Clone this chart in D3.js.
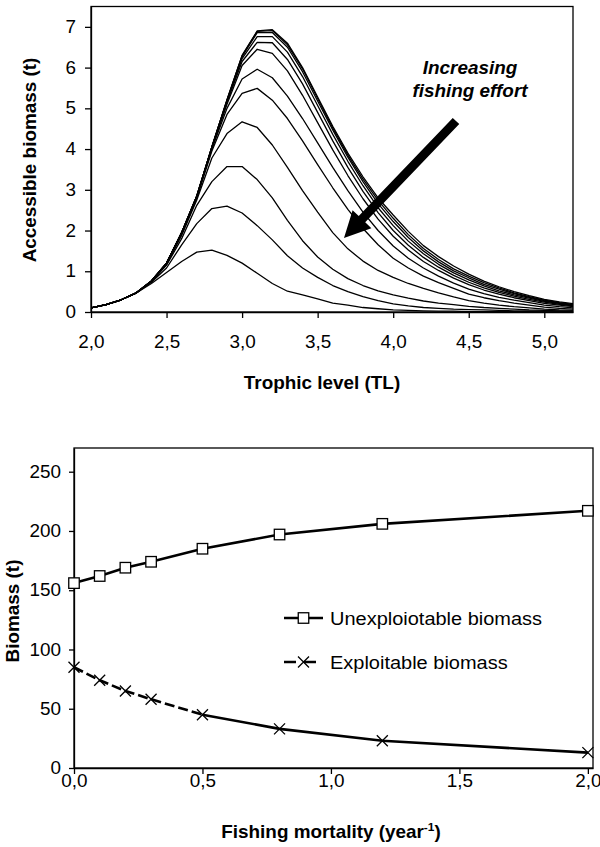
<!DOCTYPE html>
<html><head><meta charset="utf-8">
<script src="https://cdn.jsdelivr.net/npm/d3@7"></script>
<style>body{margin:0;background:#fff}svg{display:block;font-family:"Liberation Sans",Arial,sans-serif}</style>
</head><body>
<svg id="c" width="600" height="847"></svg>
<script>
// ---- Top chart data: accessible biomass vs trophic level, one curve per fishing effort ----
const trophicLevels = [2.0,2.1,2.2,2.3,2.4,2.5,2.6,2.7,2.8,2.9,3.0,3.1,3.2,3.3,3.4,3.5,3.6,3.7,3.8,3.9,4.0,4.1,4.2,4.3,4.4,4.5,4.6,4.7,4.8,4.9,5.0,5.1,5.2];
const curve01 = [0.10,0.18,0.30,0.47,0.76,1.20,1.95,2.85,4.05,5.21,6.30,6.90,6.93,6.60,6.00,5.28,4.56,3.90,3.32,2.80,2.38,1.98,1.63,1.36,1.13,0.93,0.76,0.62,0.50,0.40,0.31,0.25,0.20];
const curve02 = [0.10,0.18,0.30,0.47,0.76,1.20,1.95,2.85,4.05,5.20,6.29,6.89,6.91,6.56,5.97,5.24,4.52,3.85,3.26,2.74,2.30,1.90,1.56,1.29,1.06,0.88,0.72,0.59,0.47,0.38,0.29,0.23,0.18];
const curve03 = [0.10,0.18,0.30,0.47,0.76,1.20,1.95,2.85,4.05,5.20,6.27,6.86,6.86,6.50,5.90,5.18,4.47,3.80,3.20,2.66,2.22,1.83,1.50,1.23,1.01,0.84,0.68,0.56,0.45,0.36,0.28,0.22,0.17];
const curve04 = [0.10,0.18,0.30,0.47,0.76,1.20,1.95,2.84,4.05,5.18,6.22,6.76,6.76,6.38,5.78,5.07,4.36,3.70,3.10,2.56,2.12,1.74,1.43,1.17,0.96,0.79,0.64,0.52,0.42,0.34,0.26,0.21,0.16];
const curve05 = [0.10,0.18,0.30,0.47,0.76,1.20,1.94,2.84,4.04,5.15,6.15,6.62,6.61,6.20,5.60,4.90,4.20,3.55,2.96,2.44,2.00,1.64,1.34,1.10,0.90,0.73,0.59,0.48,0.39,0.31,0.24,0.19,0.15];
const curve06 = [0.10,0.18,0.30,0.47,0.76,1.20,1.94,2.83,4.03,5.10,6.05,6.45,6.35,5.92,5.32,4.65,3.98,3.35,2.78,2.28,1.86,1.52,1.24,1.02,0.83,0.67,0.54,0.44,0.35,0.28,0.21,0.17,0.13];
const curve07 = [0.10,0.18,0.30,0.47,0.76,1.19,1.93,2.82,4.00,5.00,5.72,5.96,5.75,5.30,4.75,4.15,3.55,2.98,2.45,2.00,1.62,1.32,1.08,0.88,0.71,0.56,0.45,0.36,0.29,0.23,0.17,0.13,0.10];
const curve08 = [0.10,0.18,0.30,0.47,0.75,1.18,1.92,2.80,3.95,4.85,5.37,5.49,5.20,4.75,4.20,3.62,3.05,2.52,2.05,1.65,1.32,1.08,0.88,0.72,0.58,0.44,0.35,0.28,0.22,0.17,0.12,0.09,0.07];
const curve09 = [0.10,0.18,0.30,0.47,0.75,1.17,1.88,2.75,3.78,4.38,4.67,4.53,4.10,3.55,2.98,2.45,1.95,1.55,1.25,1.02,0.85,0.70,0.58,0.47,0.37,0.28,0.22,0.17,0.13,0.10,0.07,0.05,0.04];
const curve10 = [0.10,0.18,0.30,0.47,0.75,1.15,1.80,2.62,3.20,3.57,3.57,3.25,2.80,2.25,1.75,1.35,1.05,0.82,0.65,0.52,0.42,0.34,0.27,0.22,0.18,0.14,0.11,0.09,0.07,0.05,0.04,0.03,0.02];
const curve11 = [0.10,0.18,0.30,0.47,0.73,1.08,1.65,2.17,2.54,2.60,2.43,2.12,1.77,1.38,1.08,0.85,0.65,0.50,0.38,0.28,0.20,0.15,0.11,0.09,0.07,0.06,0.05,0.04,0.03,0.03,0.02,0.02,0.01];
const curve12 = [0.10,0.18,0.30,0.47,0.70,0.97,1.24,1.47,1.52,1.39,1.20,0.95,0.70,0.51,0.42,0.32,0.22,0.17,0.11,0.08,0.05,0.04,0.03,0.02,0.02,0.01,0.01,0.01,0.01,0.01,0.00,0.00,0.00];
const topCurves = [curve01,curve02,curve03,curve04,curve05,curve06,curve07,curve08,curve09,curve10,curve11,curve12];
const topXTicks = [2.0,2.5,3.0,3.5,4.0,4.5,5.0];
const topYTicks = [0,1,2,3,4,5,6,7];

// ---- Bottom chart data ----
const fishingMortality = [0.0,0.1,0.2,0.3,0.5,0.8,1.2,2.0];
const unexploitable = [156,162,169,174,185,197,206,217];
const exploitable = [85,74,65,58,45,33,23,13];
const botXTicks = [0.0,0.5,1.0,1.5,2.0];
const botYTicks = [0,50,100,150,200,250];
const legendLabels = ["Unexploiotable biomass","Exploitable biomass"];

const fmt = d => d.toFixed(1).replace(".", ",");
const svg = d3.select("#c");
const SX = 1.08; // glyphs in the reference are slightly wider than Liberation Sans
function place(sel, x, y, rot) {
  sel.attr("transform", `translate(${x},${y})` + (rot ? ` rotate(${rot})` : "") + ` scale(${SX},1)`);
  return sel;
}
function styleAxis(a, fs) {
  a.selectAll("text").attr("font-size", fs).attr("fill","#000")
    .attr("font-family","Liberation Sans, Arial, sans-serif")
    .attr("transform", `scale(${SX},1)`);
  a.selectAll("line,path").attr("stroke","#000").attr("stroke-width",1.3);
}

// ================= TOP CHART =================
const tx = d3.scaleLinear().domain([2, 5.19]).range([91, 573]);
const ty = d3.scaleLinear().domain([0, 7.5]).range([312, 6.5]);
const gTop = svg.append("g");
gTop.append("clipPath").attr("id","clipTop").append("rect")
  .attr("x",91).attr("y",6.5).attr("width",573-91).attr("height",312-6.5);
gTop.append("rect").attr("x",91).attr("y",6.5).attr("width",573-91).attr("height",312-6.5)
  .attr("fill","none").attr("stroke","#000").attr("stroke-width",1.3);
const line1 = d3.line().x((d,i)=>tx(trophicLevels[i])).y(d=>ty(d));
gTop.append("g").attr("clip-path","url(#clipTop)").selectAll("path").data(topCurves).join("path")
  .attr("d", line1).attr("fill","none").attr("stroke","#000").attr("stroke-width",1.3)
  .attr("stroke-linejoin","round");
const txAxis = gTop.append("g").attr("transform","translate(0,312)")
  .call(d3.axisBottom(tx).tickValues(topXTicks).tickFormat(fmt).tickSizeInner(6).tickSizeOuter(0).tickPadding(18));
const tyAxis = gTop.append("g").attr("transform","translate(91,0)")
  .call(d3.axisLeft(ty).tickValues(topYTicks).tickFormat(d3.format("d")).tickSizeInner(6).tickSizeOuter(0).tickPadding(8));
styleAxis(txAxis, 17.5); styleAxis(tyAxis, 17.5);
place(gTop.append("text"), 322, 389).attr("text-anchor","middle")
  .attr("font-weight","bold").attr("font-size",17.5).text("Trophic level (TL)");
place(gTop.append("text"), 36, 160, -90).attr("text-anchor","middle")
  .attr("font-weight","bold").attr("font-size",17.5).text("Accessible biomass (t)");
place(gTop.append("text"), 470, 74).attr("text-anchor","middle")
  .attr("font-weight","bold").attr("font-style","italic").attr("font-size",17.5).text("Increasing");
place(gTop.append("text"), 470, 97).attr("text-anchor","middle")
  .attr("font-weight","bold").attr("font-style","italic").attr("font-size",17.5).text("fishing effort");
// arrow
const ax0 = 456, ay0 = 121, ax1 = 344, ay1 = 238;
const ang = Math.atan2(ay1-ay0, ax1-ax0);
const hl = 26, hw = 13, sw = 4.5;
const ux = Math.cos(ang), uy = Math.sin(ang), px = -uy, py = ux;
const hbx = ax1 - ux*hl, hby = ay1 - uy*hl;
const pts = [
  [ax0+px*sw, ay0+py*sw],[hbx+px*sw, hby+py*sw],[hbx+px*hw, hby+py*hw],[ax1,ay1],
  [hbx-px*hw, hby-py*hw],[hbx-px*sw, hby-py*sw],[ax0-px*sw, ay0-py*sw]];
gTop.append("path").attr("d","M"+pts.map(p=>p.join(",")).join("L")+"Z").attr("fill","#000");

// ================= BOTTOM CHART =================
const bx0 = 74, bx1 = 593, by0 = 768, by1 = 448;
const xs = d3.scaleLinear().domain([0, 2.02]).range([bx0, bx1]);
const ys = d3.scaleLinear().domain([0, 270]).range([by0, by1]);
const gBot = svg.append("g");
gBot.append("rect").attr("x",bx0).attr("y",by1).attr("width",bx1-bx0).attr("height",by0-by1)
  .attr("fill","none").attr("stroke","#000").attr("stroke-width",1.3);
const bxAxis = gBot.append("g").attr("transform",`translate(0,${by0})`)
  .call(d3.axisBottom(xs).tickValues(botXTicks).tickFormat(fmt).tickSizeInner(6).tickSizeOuter(0).tickPadding(1));
const byAxis = gBot.append("g").attr("transform",`translate(${bx0},0)`)
  .call(d3.axisLeft(ys).tickValues(botYTicks).tickFormat(d3.format("d")).tickSizeInner(5).tickSizeOuter(0).tickPadding(7));
styleAxis(bxAxis, 17.5); styleAxis(byAxis, 17.5);
place(gBot.append("text"), 331, 838).attr("text-anchor","middle")
  .attr("font-weight","bold").attr("font-size",17.5)
  .call(t=>{t.append("tspan").text("Fishing mortality (year");
    t.append("tspan").attr("dy",-7).attr("font-size",11).text("-1");
    t.append("tspan").attr("dy",7).text(")");});
place(gBot.append("text"), 18.5, 611, -90).attr("text-anchor","middle")
  .attr("font-weight","bold").attr("font-size",17.5).text("Biomass (t)");

const l2 = d3.line().x((d,i)=>xs(fishingMortality[i])).y(d=>ys(d));
gBot.append("path").datum(unexploitable).attr("d",l2).attr("fill","none").attr("stroke","#000").attr("stroke-width",2.6);
// exploitable: dashed over the densely sampled start, solid afterwards (as drawn in the reference)
const splitAt = 4;
gBot.append("path").datum(exploitable.slice(0, splitAt+1)).attr("d",l2).attr("fill","none").attr("stroke","#000").attr("stroke-width",2.6)
  .attr("stroke-dasharray","10,4");
gBot.append("path").datum(exploitable).attr("d", d3.line().defined((d,i)=>i>=splitAt).x((d,i)=>xs(fishingMortality[i])).y(d=>ys(d)))
  .attr("fill","none").attr("stroke","#000").attr("stroke-width",2.6);
const sq = 10.5;
gBot.selectAll("rect.m").data(unexploitable).join("rect").attr("class","m")
  .attr("x",(d,i)=>xs(fishingMortality[i])-sq/2).attr("y",d=>ys(d)-sq/2)
  .attr("width",sq).attr("height",sq).attr("fill","#fff").attr("stroke","#000").attr("stroke-width",1.3);
const xm = 5.5;
gBot.selectAll("path.x").data(exploitable).join("path").attr("class","x")
  .attr("d",(d,i)=>{const cx=xs(fishingMortality[i]), cy=ys(d);
    return `M${cx-xm},${cy-xm}L${cx+xm},${cy+xm}M${cx-xm},${cy+xm}L${cx+xm},${cy-xm}`;})
  .attr("stroke","#000").attr("stroke-width",1.3).attr("fill","none");

// legend
const lg = gBot.append("g");
const ly = [618, 662];
lg.append("line").attr("x1",284).attr("x2",323).attr("y1",ly[0]).attr("y2",ly[0]).attr("stroke","#000").attr("stroke-width",2.6);
lg.append("rect").attr("x",303.5-sq/2).attr("y",ly[0]-sq/2).attr("width",sq).attr("height",sq).attr("fill","#fff").attr("stroke","#000").attr("stroke-width",1.3);
lg.append("line").attr("x1",284).attr("x2",323).attr("y1",ly[1]).attr("y2",ly[1]).attr("stroke","#000").attr("stroke-width",2.6).attr("stroke-dasharray","12,8");
lg.append("path").attr("d",`M${303.5-xm},${ly[1]-xm}L${303.5+xm},${ly[1]+xm}M${303.5-xm},${ly[1]+xm}L${303.5+xm},${ly[1]-xm}`).attr("stroke","#000").attr("stroke-width",1.3);
legendLabels.forEach((t,i)=>place(lg.append("text"), 330, ly[i]+6.5).attr("font-size",18.5).text(t));
</script>
</body></html>
